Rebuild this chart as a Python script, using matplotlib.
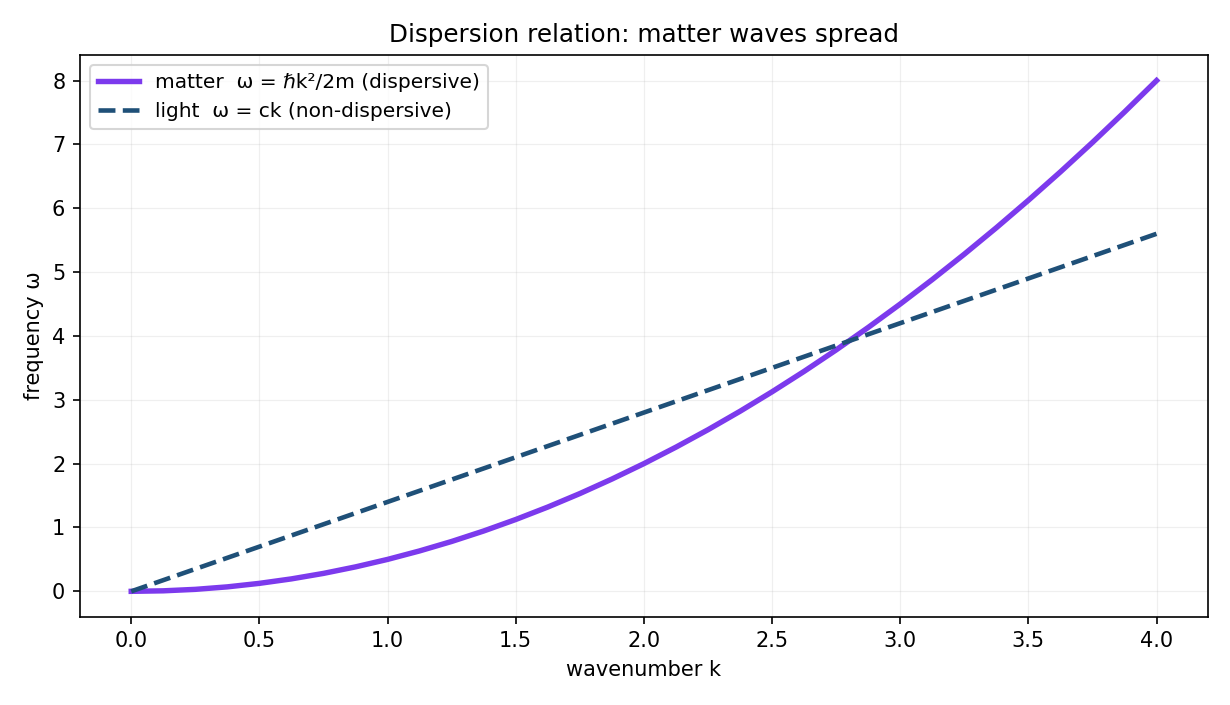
import matplotlib
matplotlib.use("Agg")
import matplotlib.pyplot as plt

k_matter = [0.0, 0.125, 0.25, 0.375, 0.5, 0.625, 0.75, 0.875, 1.0, 1.125, 1.25, 1.375,
            1.5, 1.625, 1.75, 1.875, 2.0, 2.125, 2.25, 2.375, 2.5, 2.625, 2.75, 2.875,
            3.0, 3.125, 3.25, 3.375, 3.5, 3.625, 3.75, 3.875, 4.0]
omega_matter = [0.0, 0.008, 0.031, 0.070, 0.125, 0.195, 0.281, 0.383, 0.5, 0.633, 0.781, 0.945,
                1.125, 1.320, 1.531, 1.758, 2.0, 2.258, 2.531, 2.820, 3.125, 3.445, 3.781, 4.133,
                4.5, 4.883, 5.281, 5.695, 6.125, 6.570, 7.031, 7.508, 8.0]
k_light = [0.0, 1.0, 2.0, 3.0, 4.0]
omega_light = [0.0, 1.4, 2.8, 4.2, 5.6]

fig, ax = plt.subplots(figsize=(8.2, 4.7), dpi=150)
ax.plot(k_matter, omega_matter, color="#7c3aed", lw=2.6,
        label="matter  ω = ℏk²/2m (dispersive)")
ax.plot(k_light, omega_light, color="#1f5078", lw=2.2, ls="--",
        label="light  ω = ck (non-dispersive)")
ax.set_title("Dispersion relation: matter waves spread", fontsize=11.8)
ax.set_xlabel("wavenumber k")
ax.set_ylabel("frequency ω")
ax.grid(True, alpha=0.2, lw=0.6)
ax.legend(loc="upper left", fontsize=9.7)
fig.subplots_adjust(left=0.065, right=0.982, top=0.922, bottom=0.125)
fig.savefig("out.png", dpi=150)
